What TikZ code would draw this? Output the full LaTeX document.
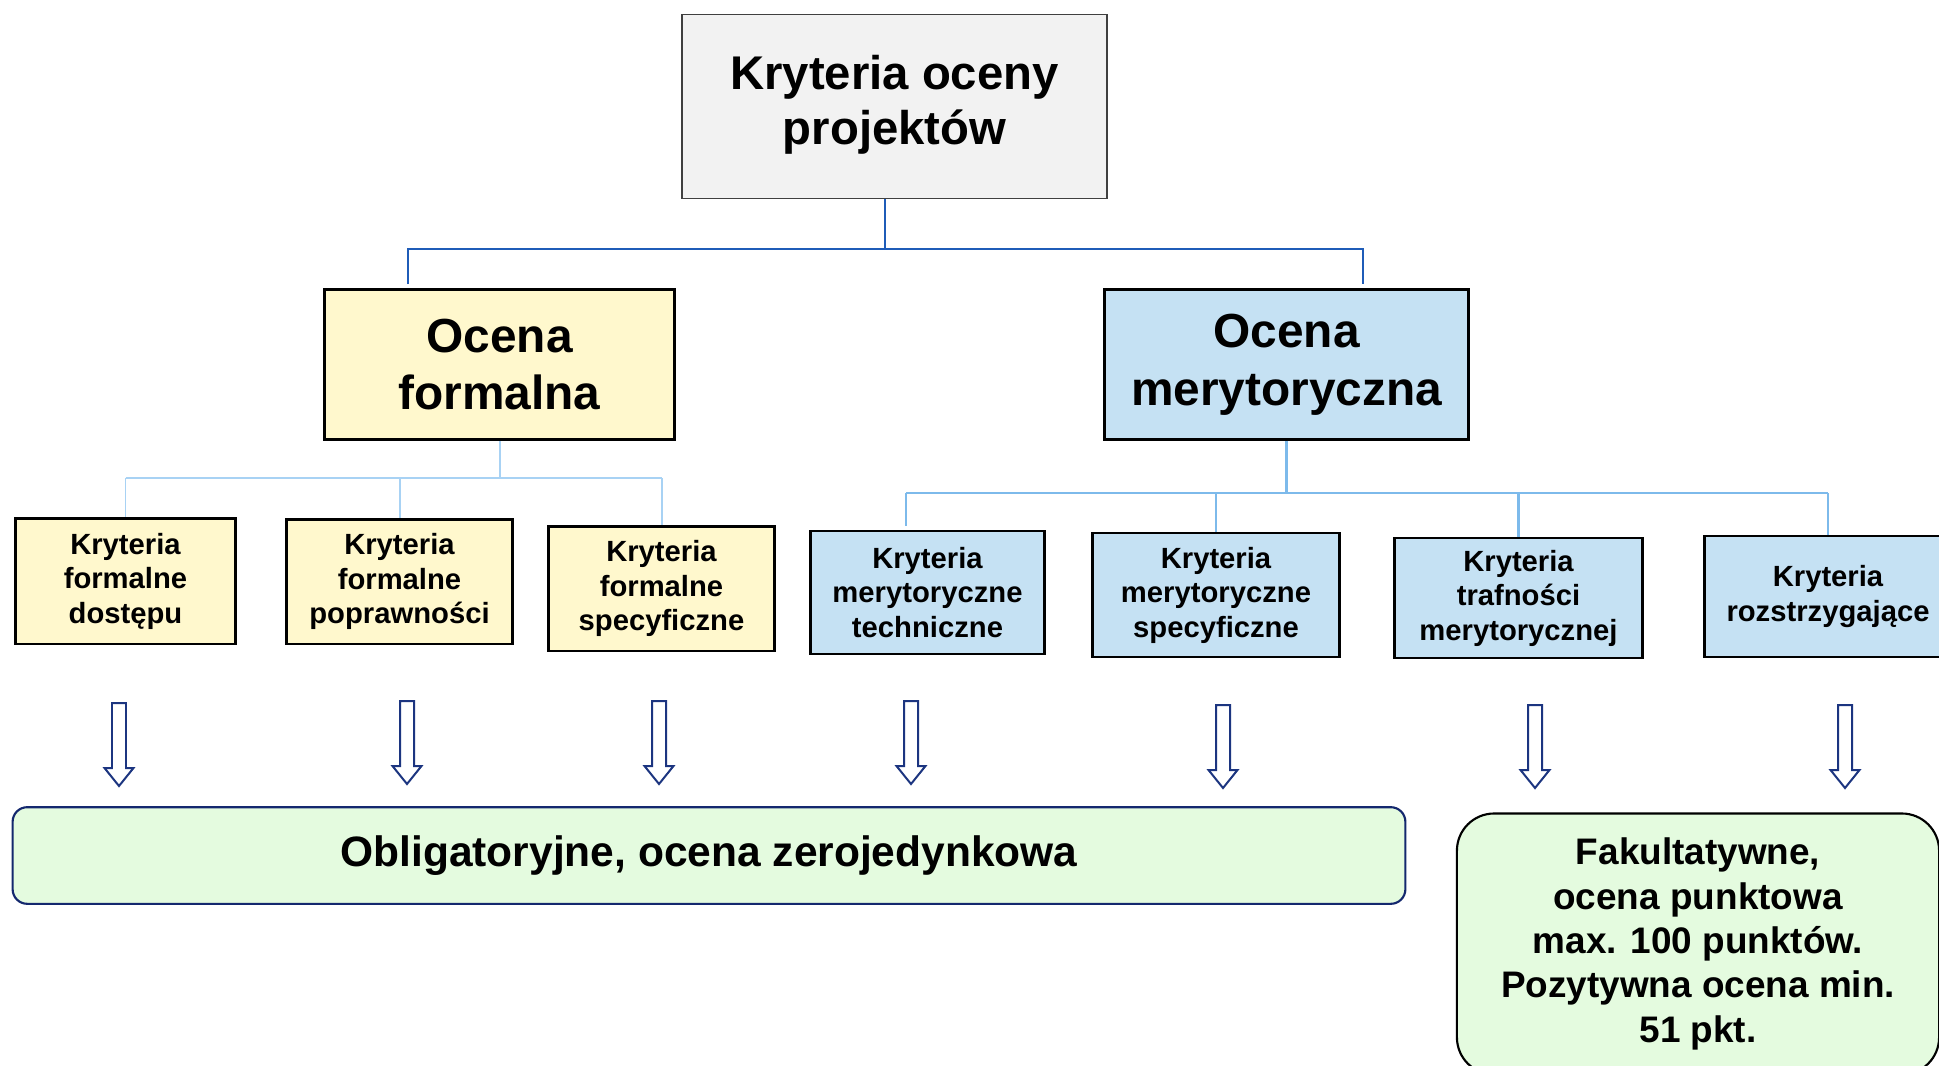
\documentclass[tikz,border=0pt]{standalone}
\usepackage{fontspec}
\setmainfont{Liberation Sans}
\definecolor{topfill}{HTML}{F2F2F2}
\definecolor{topdraw}{HTML}{404040}
\definecolor{yel}{HTML}{FFF8CD}
\definecolor{blu}{HTML}{C5E1F3}
\definecolor{grn}{HTML}{E4FBDF}
\definecolor{navy}{HTML}{1C3580}
\definecolor{navyb}{HTML}{14286E}
\definecolor{tline}{HTML}{1F5CB8}
\definecolor{lline}{HTML}{A8D2F4}
\definecolor{rline}{HTML}{7DBAEB}
\tikzset{
  box/.style={draw=black, line width=1.9pt, inner sep=0pt, align=center,
    font={\fontsize{22}{26}\selectfont\bfseries}},
  ybox/.style={box, fill=yel},
  bbox/.style={box, fill=blu},
  sz/.style 2 args={minimum width=#1*0.75pt, minimum height=#2*0.75pt},
  bigbox/.style={box, font={\fontsize{36}{43.5}\selectfont\bfseries}},
  topbox/.style={draw=topdraw, line width=1.2pt, fill=topfill, inner sep=0pt, align=center,
    font={\fontsize{35.6}{42}\selectfont\bfseries}},
  oblbox/.style={draw=navyb, line width=1.6pt, fill=grn, inner sep=0pt, rounded corners=11pt,
    align=center, font={\fontsize{32}{38}\selectfont\bfseries}},
  fakbox/.style={draw=black, line width=1.6pt, fill=grn, inner sep=0pt, rounded corners=28pt,
    align=center, font={\fontsize{27.8}{33.4}\selectfont\bfseries}},
  tconn/.style={draw=tline, line width=2pt},
  lconn/.style={draw=lline, line width=1.5pt},
  rconn/.style={draw=rline, line width=1.6pt},
  arrowline/.style={draw=navy, line width=1.5pt, fill=white, line join=miter},
  barrow/.pic={\path[arrowline] (-7,0) -- (7,0) -- (7,65) -- (14.5,65) -- (0,83) -- (-14.5,65) -- (-7,65) -- cycle;}
}
\begin{document}
\begin{tikzpicture}[x=0.0264583cm, y=-0.0264583cm]
\useasboundingbox (0,0) rectangle (1939,1066);
\clip (0,0) rectangle (1939,1066);
\fill[white] (0,0) rectangle (1939,1066);

% top
\node[topbox, sz={427}{185}, text depth=10pt] (top) at (894.5,106.5) {Kryteria oceny\\projektów};

% level 2
\node[bigbox, fill=yel, sz={351}{151}] (formal) at (499.5,364.5) {Ocena\\formalna};
\node[bigbox, fill=blu, sz={365}{151}] (meryt) at (1286.5,364.5) {Ocena\\merytoryczna};

% level 3
\node[ybox, sz={221}{126}] (f1) at (125.5,581) {Kryteria\\formalne\\dostępu};
\node[ybox, sz={227}{125}] (f2) at (399.5,581.5) {Kryteria\\formalne\\poprawności};
\node[ybox, sz={227}{125}] (f3) at (661.5,588.5) {Kryteria\\formalne\\specyficzne};
\node[bbox, sz={235}{123}] (m1) at (927.5,592.5) {Kryteria\\merytoryczne\\techniczne};
\node[bbox, sz={248}{124}] (m2) at (1216,595) {Kryteria\\merytoryczne\\specyficzne};
\node[bbox, sz={249}{120}] (m3) at (1518.5,598) {Kryteria\\trafności\\merytorycznej};
\node[bbox, sz={248}{121}] (m4) at (1828,596.5) {Kryteria\\rozstrzygające};

% bottom
\node[oblbox, sz={1398}{97}] (obl) at (709,855.5) {Obligatoryjne, ocena zerojedynkowa};
\node[fakbox, sz={484}{262}] (fak) at (1698,944) {Fakultatywne,\\ocena punktowa\\max. 100 punktów.\\Pozytywna ocena min.\\51 pkt.};

% top connectors
\coordinate (tj) at (885,249);
\coordinate (fa) at (408,284);
\coordinate (ma) at (1363,284);
\draw[tconn] (tj |- top.south) -- (tj);
\draw[tconn] (fa) -- (fa |- tj) -- (ma |- tj) -- (ma);

% formal connectors
\coordinate (fj) at (500,478);
\draw[lconn] (formal.south) -- (formal.south |- fj);
\draw[lconn] (f1.north |- fj) -- (f3.north |- fj);
\draw[lconn] (f1.north |- fj) -- (f1.north);
\draw[lconn] (f2.north |- fj) -- (f2.north);
\draw[lconn] (f3.north |- fj) -- (f3.north);

% merytoryczna connectors
\coordinate (mj) at (1287,493);
\coordinate (m1a) at (906,526);
\draw[rconn] (meryt.south) -- (meryt.south |- mj);
\draw[rconn] (m1a |- mj) -- (m4.north |- mj);
\draw[rconn] (m1a |- mj) -- (m1a);
\draw[rconn] (m2.north |- mj) -- (m2.north);
\draw[rconn] (m3.north |- mj) -- (m3.north);
\draw[rconn] (m4.north |- mj) -- (m4.north);

% block arrows
\pic (a1) at (119,703) {barrow};
\pic (a2) at (407,701) {barrow};
\pic (a3) at (659,701) {barrow};
\pic (a4) at (911,701) {barrow};
\pic (a5) at (1223,705) {barrow};
\pic (a6) at (1535,705) {barrow};
\pic (a7) at (1845,705) {barrow};
\end{tikzpicture}
\end{document}
